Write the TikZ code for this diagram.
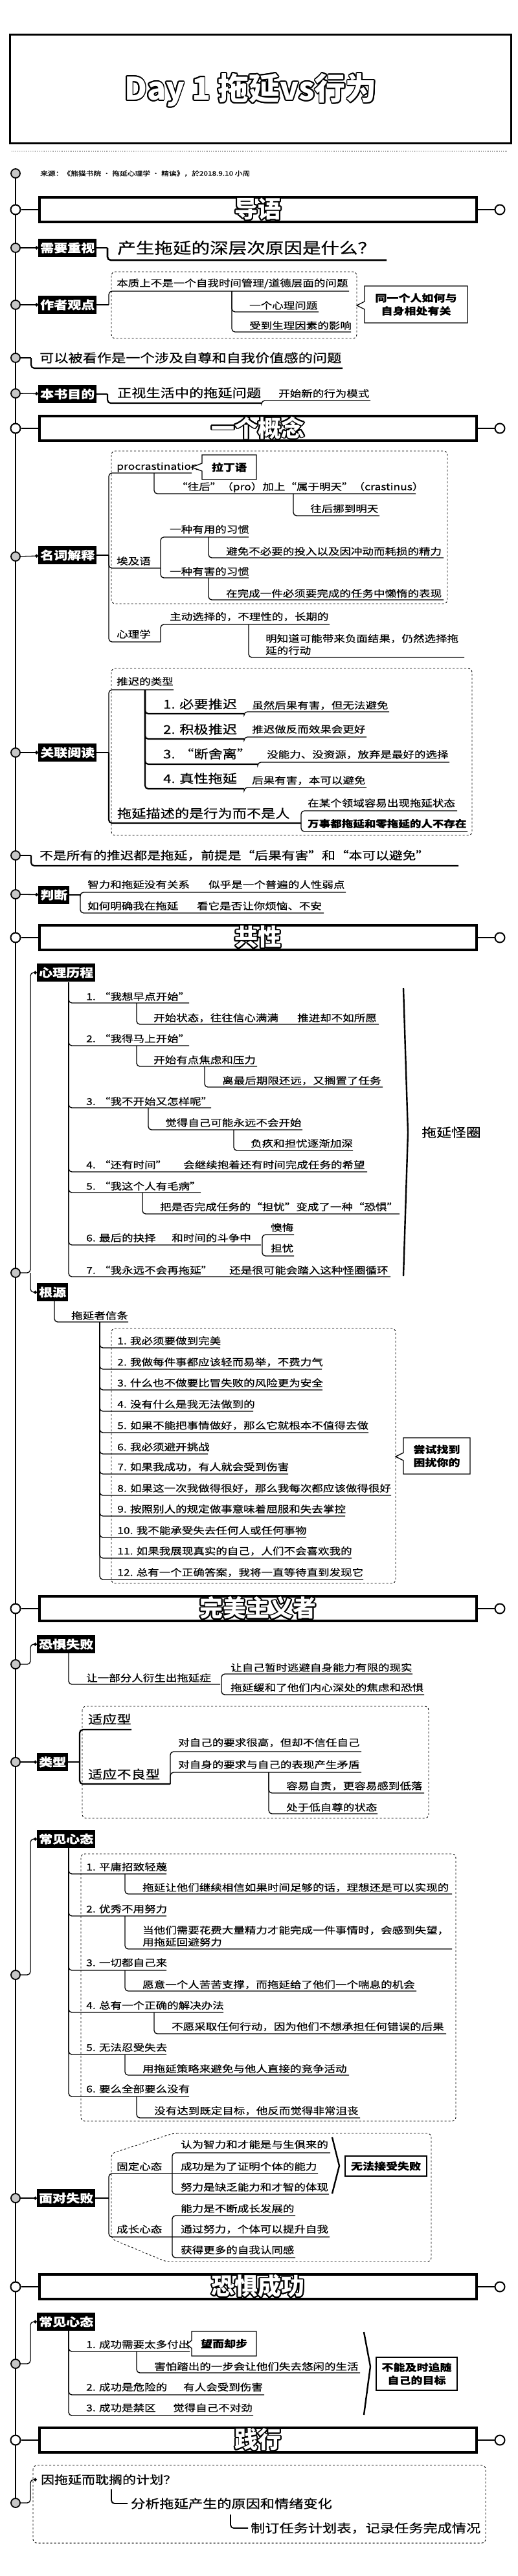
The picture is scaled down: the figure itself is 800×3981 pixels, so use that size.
\documentclass[tikz,border=0pt]{standalone}
\usepackage{fontspec}
\setmainfont{Noto Sans CJK SC}[FakeStretch=1.2, FakeBold=0.4]
\newfontfamily\headfont{Noto Sans CJK SC}
\usepackage[copies]{contour}
\contourlength{1.8pt}
\usetikzlibrary{arrows.meta}

\newcommand{\fs}[1]{\fontsize{#1}{#1}\selectfont}
% white heading text with black outline
\newcommand{\outl}[1]{\contour{black}{\textcolor{white}{#1}}}
% underlined branch: [style]{x0}{yfrom}{yline}{xtext}{ytext}{xend}{name}{text}
\newcommand{\leaf}[9][]{%
  \draw[ul,#1] (#2,#3) -- (#2,#4) -- (#7,#4);
  \node[txt,#1] (#8) at (#5,#6) {#9};}
% callout box with a notch: {name}{x1}{y1}{x2}{y2}{tipx}{tipy}{text}
\newcommand{\note}[8]{%
  \draw[line width=1.3pt, fill=white] (#2,#3) -- (#4,#3) -- (#4,#5) -- (#2,#5)
    -- (#2,#7+6) -- (#6,#7) -- (#2,#7-6) -- cycle;
  \node[notetxt] (#1) at ({(#2+#4)/2},{(#3+#5)/2}) {#8};}

\tikzset{
  trunk/.style={line width=2.4pt},
  ul/.style={line width=1.3pt, rounded corners=5pt},
  txt/.style={inner sep=0pt, anchor=west, align=left, font={\fontsize{14.6}{18.5}\selectfont}},
  mid/.style={font={\fs{18.5}}, line width=2.2pt},
  big/.style={font={\fs{23.8}}, line width=2.6pt},
  strong/.style={font={\bfseries\fs{14.6}}},
  lbl/.style={fill=black, text=white, anchor=west, inner xsep=3pt, inner ysep=0pt,
    minimum height=28pt, font={\bfseries\fs{17.5}}},
  spot/.style={circle, draw, line width=1.8pt, fill=black!22, minimum size=14pt, inner sep=0pt},
  ring/.style={circle, draw, line width=2pt, fill=white, minimum size=15pt, inner sep=0pt,
    path picture={\fill (path picture bounding box.center) circle (3pt);}},
  sect/.style={draw, line width=4pt, minimum width=675pt, minimum height=38pt, inner sep=0pt,
    font={\headfont\bfseries\fs{36}}},
  dbox/.style={draw, dashed, rounded corners=6pt, line width=0.9pt},
  notetxt/.style={align=center, inner sep=0pt, font={\bfseries\fontsize{15}{20}\selectfont}},
  sumbox/.style={draw, line width=1.3pt, align=center, inner sep=0pt,
    font={\bfseries\fontsize{15}{20}\selectfont}},
  brace/.style={line width=2.4pt},
  dot/.style={-{Circle[length=5pt]}}
}

\begin{document}
\begin{tikzpicture}[x=1pt,y=-1pt]
\useasboundingbox (0,0) rectangle (800,3981);

% Title
\node[draw, line width=3pt, minimum width=774pt, minimum height=168pt] (title) at (402.5,137.5) {};
\node (titletext) at (387,140) {\headfont\bfseries\fs{48}\outl{Day 1 拖延vs行为}};
\draw[dotted, line width=0.8pt] (18,233) -- (785,233);

% Spine
\coordinate (top) at (24,268);
\coordinate (bot) at (24,3868);
\draw[trunk] (top) -- (bot);

% Source
\node[spot] (m-src) at (top) {};
\node[txt, font={\fs{9.8}}] (src) at (62,268) {来源：《熊猫书院 · 拖延心理学 · 精读》，於2018.9.10 小周};

% Section: intro
\node[sect] (s1) at (398.5,324) {\outl{导语}};
\node[ring] (r1a) at (24,324) {};
\node[ring] (r1b) at (772,324) {};
\draw[ul] (r1a) -- (s1); \draw[ul] (s1) -- (r1b);

% Need attention
\node[spot] (m-need) at (24,383) {};
\node[lbl] (l-need) at (59,383) {需要重视};
\draw[ul,dot] (m-need) -- (l-need);
\draw[ul] (l-need.east) -- (166,383);
\leaf[big]{166}{383}{402}{180}{383}{597}{q-deep}{产生拖延的深层次原因是什么？}

% Author's view
\node[spot] (m-view) at (24,471) {};
\node[lbl] (l-view) at (59,471) {作者观点};
\draw[ul,dot] (m-view) -- (l-view);
\draw[dbox] (172,420) rectangle (551,523);
\draw[ul] (l-view.east) -- (168,471);
\leaf{168}{471}{450}{180}{438}{539}{v-essence}{本质上不是一个自我时间管理/道德层面的问题}
\leaf{358}{450}{482}{385}{472}{492}{v-psy}{一个心理问题}
\leaf{358}{450}{513}{385}{503}{542}{v-body}{受到生理因素的影响}
\note{c-self}{563}{442}{722}{499}{551}{472}{同一个人如何与\\自身相处有关}

% Self esteem
\node[spot] (m-self) at (24,553) {};
\draw[ul] (m-self) -- (48,553);
\leaf[mid]{48}{553}{569}{60}{553}{529}{t-self}{可以被看作是一个涉及自尊和自我价值感的问题}

% Aim of the book
\node[spot] (m-aim) at (24,608) {};
\node[lbl] (l-aim) at (59,609) {本书目的};
\draw[ul,dot] (m-aim) -- (l-aim);
\draw[ul] (l-aim.east) -- (166,609);
\leaf[mid]{166}{609}{623}{180}{607}{404}{a-face}{正视生活中的拖延问题}
\leaf{404}{623}{619}{430}{608}{572}{a-new}{开始新的行为模式}

% Section: concept
\node[sect] (s2) at (398.5,662) {\outl{一个概念}};
\node[ring] (r2a) at (24,662) {};
\node[ring] (r2b) at (772,662) {};
\draw[ul] (r2a) -- (s2); \draw[ul] (s2) -- (r2b);

% Terms
\node[spot] (m-term) at (24,860) {};
\node[lbl] (l-term) at (59,858) {名词解释};
\draw[ul,dot] (m-term) -- (l-term);
\draw[dbox] (172,697) rectangle (691,933);
\draw[ul] (l-term.east) -- (168,858);
\leaf{168}{858}{731}{180}{722}{296}{t-pro}{procrastination}
\note{c-latin}{312}{703}{396}{741}{296}{722}{拉丁语}
\leaf{238}{731}{763}{272}{753}{642}{t-pro2}{“往后”（pro）加上“属于明天”（crastinus）}
\leaf{453}{763}{797}{479}{786}{586}{t-pro3}{往后挪到明天}
\leaf{168}{858}{878}{180}{867}{248}{t-egy}{埃及语}
\leaf{248}{878}{830}{262}{818}{384}{t-good}{一种有用的习惯}
\leaf{248}{878}{893}{262}{883}{384}{t-bad}{一种有害的习惯}
\leaf{322}{830}{862}{349}{852}{685}{t-good2}{避免不必要的投入以及因冲动而耗损的精力}
\leaf{322}{893}{927}{349}{917}{685}{t-bad2}{在完成一件必须要完成的任务中懒惰的表现}
\leaf{168}{858}{992}{180}{980}{248}{t-psy}{心理学}
\leaf{248}{992}{965}{262}{953}{509}{t-psy1}{主动选择的，不理性的，长期的}
\leaf{384}{965}{1016}{410}{996}{717}{t-psy2}{明知道可能带来负面结果，仍然选择拖\\延的行动}

% Related reading
\node[spot] (m-read) at (24,1163) {};
\node[lbl] (l-read) at (59,1163) {关联阅读};
\draw[ul,dot] (m-read) -- (l-read);
\draw[dbox] (172,1033) rectangle (729,1291);
\draw[ul] (l-read.east) -- (168,1163);
\leaf{168}{1163}{1066}{180}{1053}{268}{r-type}{推迟的类型}
\leaf[mid]{224}{1066}{1103}{251}{1088}{377}{r-t1}{1. 必要推迟}
\leaf{377}{1103}{1100}{389}{1090}{601}{r-t1b}{虽然后果有害，但无法避免}
\leaf[mid]{224}{1066}{1142}{251}{1127}{377}{r-t2}{2. 积极推迟}
\leaf{377}{1142}{1139}{389}{1127}{566}{r-t2b}{推迟做反而效果会更好}
\leaf[mid]{224}{1066}{1181}{251}{1165}{398}{r-t3}{3. “断舍离”}
\leaf{398}{1181}{1178}{412}{1166}{694}{r-t3b}{没能力、没资源，放弃是最好的选择}
\leaf[mid]{224}{1066}{1219}{251}{1203}{377}{r-t4}{4. 真性拖延}
\leaf{377}{1219}{1217}{389}{1206}{566}{r-t4b}{后果有害，本可以避免}
\leaf[mid]{168}{1163}{1272}{180}{1257}{465}{r-act}{拖延描述的是行为而不是人}
\leaf{465}{1272}{1253}{475}{1241}{706}{r-act1}{在某个领域容易出现拖延状态}
\leaf[strong]{465}{1272}{1285}{475}{1273}{722}{r-act2}{万事都拖延和零拖延的人不存在}

% Not every delay
\node[spot] (m-notall) at (24,1322) {};
\draw[ul] (m-notall) -- (48,1322);
\leaf[mid,font={\fs{17.3}}]{48}{1322}{1338}{60}{1322}{708}{t-notall}{不是所有的推迟都是拖延，前提是“后果有害”和“本可以避免”}

% Judge
\node[spot] (m-judge) at (24,1382) {};
\node[lbl] (l-judge) at (59,1383) {判断};
\draw[ul,dot] (m-judge) -- (l-judge);
\draw[ul] (l-judge.east) -- (124,1383);
\leaf{124}{1383}{1379}{135}{1367}{534}{j-iq}{智力和拖延没有关系}
\node[txt] (j-iq2) at (322,1367) {似乎是一个普遍的人性弱点};
\leaf{124}{1383}{1411}{135}{1400}{500}{j-how}{如何明确我在拖延}
\node[txt] (j-how2) at (304,1400) {看它是否让你烦恼、不安};

% Section: common traits
\node[sect] (s3) at (398.5,1449) {\outl{共性}};
\node[ring] (r3a) at (24,1449) {};
\node[ring] (r3b) at (772,1449) {};
\draw[ul] (r3a) -- (s3); \draw[ul] (s3) -- (r3b);

% Mental process and roots
\node[spot] (m-root) at (24,1967) {};
\node[lbl] (l-proc) at (57,1503) {心理历程};
\node[lbl] (l-root) at (57,1997) {根源};
\draw[ul,dot] (m-root) -- (47,1967) -- (47,1503) -- (l-proc.west);
\draw[ul,dot] (47,1967) -- (47,1997) -- (l-root.west);

\leaf{106}{1518}{1550}{133}{1540}{292}{p1}{1. “我想早点开始”}
\leaf{211}{1550}{1583}{237}{1573}{585}{p1a}{开始状态，往往信心满满}
\node[txt] (p1b) at (459,1573) {推进却不如所愿};
\leaf{106}{1518}{1616}{133}{1605}{292}{p2}{2. “我得马上开始”}
\leaf{211}{1616}{1648}{237}{1638}{397}{p2a}{开始有点焦虑和压力}
\leaf{316}{1648}{1680}{343}{1670}{591}{p2b}{离最后期限还远，又搁置了任务}
\leaf{106}{1518}{1712}{133}{1702}{326}{p3}{3. “我不开始又怎样呢”}
\leaf{229}{1712}{1746}{255}{1735}{467}{p3a}{觉得自己可能永远不会开始}
\leaf{361}{1746}{1778}{387}{1767}{545}{p3b}{负疚和担忧逐渐加深}
\leaf{106}{1518}{1811}{133}{1800}{567}{p4}{4. “还有时间”}
\node[txt] (p4a) at (283,1800) {会继续抱着还有时间完成任务的希望};
\leaf{106}{1518}{1843}{133}{1833}{310}{p5}{5. “我这个人有毛病”}
\leaf{220}{1843}{1876}{247}{1865}{617}{p5a}{把是否完成任务的“担忧”变成了一种“恐惧”}
\leaf{106}{1518}{1924}{133}{1913}{403}{p6}{6. 最后的抉择}
\node[txt] (p6a) at (265,1913) {和时间的斗争中};
\leaf{405}{1924}{1908}{418}{1897}{454}{p6b}{懊悔}
\leaf{405}{1924}{1941}{418}{1929}{454}{p6c}{担忧}
\leaf{106}{1518}{1973}{133}{1963}{603}{p7}{7. “我永远不会再拖延”}
\node[txt] (p7a) at (354,1963) {还是很可能会踏入这种怪圈循环};
\draw[brace] (623,1527) -- (630,1750) -- (623,1972);
\node[font={\fs{19}}] (p-loop) at (697,1750) {拖延怪圈};

\leaf{84}{2010}{2043}{110}{2033}{198}{g-belief}{拖延者信条}
\draw[dbox] (172,2053) rectangle (611,2447);
\leaf{154}{2043}{2083}{181}{2072}{340}{g1}{1. 我必须要做到完美}
\leaf{154}{2043}{2116}{181}{2105}{497}{g2}{2. 我做每件事都应该轻而易举，不费力气}
\leaf{154}{2043}{2148}{181}{2137}{498}{g3}{3. 什么也不做要比冒失败的风险更为安全}
\leaf{154}{2043}{2181}{181}{2170}{391}{g4}{4. 没有什么是我无法做到的}
\leaf{154}{2043}{2214}{181}{2203}{569}{g5}{5. 如果不能把事情做好，那么它就根本不值得去做}
\leaf{154}{2043}{2247}{181}{2236}{321}{g6}{6. 我必须避开挑战}
\leaf{154}{2043}{2278}{181}{2267}{445}{g7}{7. 如果我成功，有人就会受到伤害}
\leaf{154}{2043}{2311}{181}{2300}{604}{g8}{8. 如果这一次我做得很好，那么我每次都应该做得很好}
\leaf{154}{2043}{2343}{181}{2332}{533}{g9}{9. 按照别人的规定做事意味着屈服和失去掌控}
\leaf{154}{2043}{2376}{181}{2365}{473}{g10}{10. 我不能承受失去任何人或任何事物}
\leaf{154}{2043}{2408}{181}{2397}{543}{g11}{11. 如果我展现真实的自己，人们不会喜欢我的}
\leaf{154}{2043}{2441}{181}{2430}{561}{g12}{12. 总有一个正确答案，我将一直等待直到发现它}
\note{c-try}{623}{2222}{726}{2278}{611}{2251}{尝试找到\\困扰你的}

% Section: perfectionist
\node[sect] (s4) at (398.5,2486) {\outl{完美主义者}};
\node[ring] (r4a) at (24,2486) {};
\node[ring] (r4b) at (772,2486) {};
\draw[ul] (r4a) -- (s4); \draw[ul] (s4) -- (r4b);

% Fear of failure
\node[spot] (m-fear) at (24,2572) {};
\node[lbl] (l-fear) at (57,2541) {恐惧失败};
\draw[ul,dot] (m-fear) -- (47,2572) -- (47,2541) -- (l-fear.west);
\leaf{106}{2555}{2603}{133}{2593}{340}{f-part}{让一部分人衍生出拖延症}
\leaf{342}{2603}{2587}{356}{2577}{637}{f-escape}{让自己暂时逃避自身能力有限的现实}
\leaf{342}{2603}{2619}{356}{2608}{655}{f-ease}{拖延缓和了他们内心深处的焦虑和恐惧}

% Types
\node[spot] (m-type) at (24,2723) {};
\node[lbl] (l-type) at (57,2723) {类型};
\draw[ul,dot] (m-type) -- (l-type);
\draw[dbox] (127,2637) rectangle (662,2810);
\draw[ul] (l-type.east) -- (123,2723);
\leaf[mid]{123}{2723}{2673}{135}{2657}{203}{y-fit}{适应型}
\leaf[mid]{123}{2723}{2757}{135}{2742}{263}{y-misfit}{适应不良型}
\leaf{263}{2757}{2707}{275}{2693}{558}{y-high}{对自己的要求很高，但却不信任自己}
\leaf{263}{2757}{2739}{275}{2727}{558}{y-clash}{对自身的要求与自己的表现产生矛盾}
\leaf{415}{2739}{2771}{442}{2760}{655}{y-blame}{容易自责，更容易感到低落}
\leaf{415}{2739}{2803}{442}{2793}{583}{y-low}{处于低自尊的状态}

% Common mindsets (failure)
\node[spot] (m-mind) at (24,3052) {};
\node[lbl] (l-mind) at (57,2842) {常见心态};
\draw[ul,dot] (m-mind) -- (47,3052) -- (47,2842) -- (l-mind.west);
\draw[dbox] (125,2865) rectangle (704,3278);
\leaf{106}{2856}{2896}{133}{2885}{257}{h1}{1. 平庸招致轻蔑}
\leaf{193}{2896}{2927}{220}{2917}{698}{h1a}{拖延让他们继续相信如果时间足够的话，理想还是可以实现的}
\leaf{106}{2856}{2961}{133}{2950}{257}{h2}{2. 优秀不用努力}
\leaf{193}{2961}{3012}{220}{2992}{698}{h2a}{当他们需要花费大量精力才能完成一件事情时，会感到失望，\\用拖延回避努力}
\leaf{106}{2856}{3045}{133}{3033}{257}{h3}{3. 一切都自己来}
\leaf{193}{3045}{3077}{220}{3067}{643}{h3a}{愿意一个人苦苦支撑，而拖延给了他们一个喘息的机会}
\leaf{106}{2856}{3110}{133}{3099}{345}{h4}{4. 总有一个正确的解决办法}
\leaf{238}{3110}{3143}{265}{3132}{689}{h4a}{不愿采取任何行动，因为他们不想承担任何错误的后果}
\leaf{106}{2856}{3175}{133}{3164}{257}{h5}{5. 无法忍受失去}
\leaf{193}{3175}{3207}{220}{3197}{539}{h5a}{用拖延策略来避免与他人直接的竞争活动}
\leaf{106}{2856}{3240}{133}{3228}{292}{h6}{6. 要么全部要么没有}
\leaf{211}{3240}{3273}{238}{3262}{556}{h6a}{没有达到既定目标，他反而觉得非常沮丧}

% Facing failure
\node[spot] (m-face) at (24,3397) {};
\node[lbl] (l-face) at (57,3397) {面对失败};
\draw[ul,dot] (m-face) -- (l-face);
\draw[dashed, line width=0.9pt, rounded corners=6pt] (267,3297) -- (666,3297) -- (666,3495)
  -- (256,3495) -- (172,3460) -- (172,3328) -- cycle;
\draw[ul] (l-face.east) -- (168,3397);
\leaf{168}{3397}{3359}{180}{3348}{491}{e-fixed}{固定心态}
\node[txt] (e-fixed2) at (279,3348) {成功是为了证明个体的能力};
\leaf{266}{3359}{3327}{279}{3314}{510}{e-fixed1}{认为智力和才能是与生俱来的}
\leaf{266}{3359}{3391}{279}{3380}{508}{e-fixed3}{努力是缺乏能力和才智的体现}
\draw[brace] (513,3303) -- (524,3347) -- (513,3390);
\node[sumbox, minimum width=126pt, minimum height=31pt] (e-fail) at (596,3347.5) {无法接受失败};
\leaf{168}{3397}{3457}{180}{3445}{509}{e-grow}{成长心态}
\node[txt] (e-grow2) at (279,3445) {通过努力，个体可以提升自我};
\leaf{266}{3457}{3424}{279}{3413}{456}{e-grow1}{能力是不断成长发展的}
\leaf{266}{3457}{3489}{279}{3477}{456}{e-grow3}{获得更多的自我认同感}

% Section: fear of success
\node[sect] (s5) at (398.5,3534) {\outl{恐惧成功}};
\node[ring] (r5a) at (24,3534) {};
\node[ring] (r5b) at (772,3534) {};
\draw[ul] (r5a) -- (s5); \draw[ul] (s5) -- (r5b);

% Common mindsets (success)
\node[spot] (m-mind2) at (24,3653) {};
\node[lbl] (l-mind2) at (57,3588) {常见心态};
\draw[ul,dot] (m-mind2) -- (47,3653) -- (47,3588) -- (l-mind2.west);
\leaf{106}{3602}{3634}{133}{3623}{293}{k1}{1. 成功需要太多付出}
\note{c-shy}{296}{3603}{396}{3641}{288}{3623}{望而却步}
\leaf{211}{3634}{3667}{238}{3657}{556}{k1a}{害怕踏出的一步会让他们失去悠闲的生活}
\leaf{106}{3602}{3701}{133}{3689}{408}{k2}{2. 成功是危险的}
\node[txt] (k2a) at (283,3689) {有人会受到伤害};
\leaf{106}{3602}{3733}{133}{3721}{391}{k3}{3. 成功是禁区}
\node[txt] (k3a) at (267,3721) {觉得自己不对劲};
\draw[brace] (562,3604) -- (572,3657) -- (562,3732);
\node[sumbox, minimum width=125pt, minimum height=51pt] (k-goal) at (643.5,3668.5) {不能及时追随\\自己的目标};

% Section: practice
\node[sect] (s6) at (398.5,3771) {\outl{践行}};
\node[ring] (r6a) at (24,3771) {};
\node[ring] (r6b) at (772,3771) {};
\draw[ul] (r6a) -- (s6); \draw[ul] (s6) -- (r6b);

% Plan
\node[spot] (m-do) at (bot) {};
\draw[dbox] (51,3810) rectangle (750,3930);
\node[txt, mid, font={\fs{17.5}}] (d-plan) at (62,3832) {因拖延而耽搁的计划？};
\node[txt, mid] (d-why) at (201,3869) {分析拖延产生的原因和情绪变化};
\node[txt, mid] (d-list) at (386,3907) {制订任务计划表，记录任务完成情况};
\draw[ul,dot] (m-do) -- (47,3868) -- (47,3832) -- ([xshift=-5pt]d-plan.west);
\draw[ul, line width=1.8pt] (172,3847) -- (172,3869) -- ([xshift=-4pt]d-why.west);
\draw[ul, line width=1.8pt] (356,3886) -- (356,3907) -- ([xshift=-3pt]d-list.west);

\end{tikzpicture}
\end{document}
